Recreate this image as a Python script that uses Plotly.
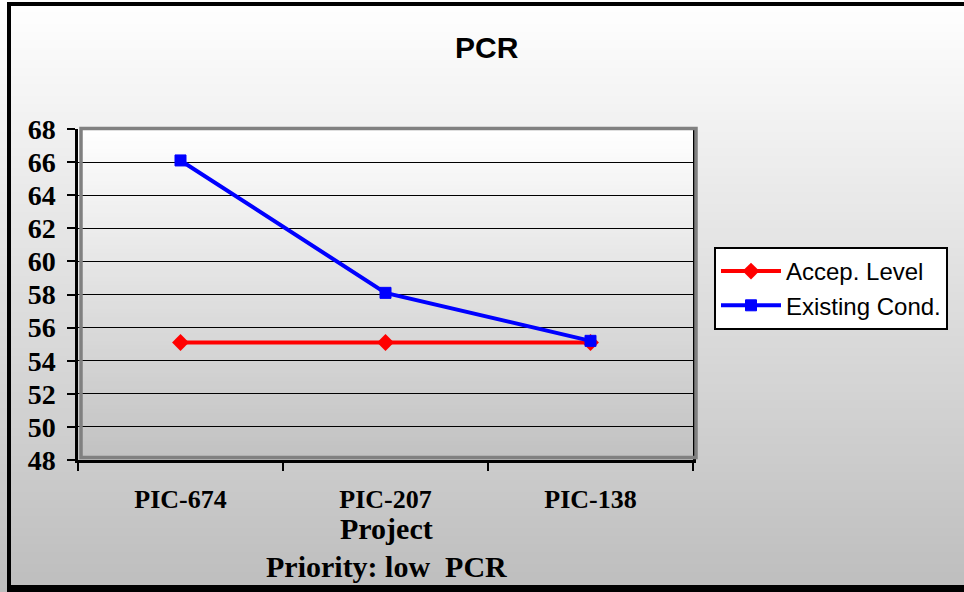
import plotly.graph_objects as go

# Chart data
projects = ["PIC-674", "PIC-207", "PIC-138"]
accep_level = [55.1, 55.1, 55.1]
existing_cond = [66.1, 58.1, 55.2]
y_ticks = [48, 50, 52, 54, 56, 58, 60, 62, 64, 66, 68]

W, H = 964, 592
L, R, T, B = 78, 693, 129, 460  # plot area in pixels


def px(x):
    return (x - L) / (R - L)


def py(y):
    return (B - y) / (B - T)


def grey(v):
    v = int(round(v))
    return f"rgb({v},{v},{v})"


shapes = []

# Page background: vertical gradient white -> light grey
step = 4
for y0 in range(0, H, step):
    y1 = min(y0 + step, H)
    c = 255 - 65 * (y0 + step / 2) / 585
    shapes.append(dict(type="rect", xref="paper", yref="paper", layer="below",
                       x0=px(0), x1=px(W), y0=py(y0), y1=py(y1),
                       fillcolor=grey(c), line=dict(width=0)))

# Plot area background: gradient white -> grey
for y0 in range(T, B, step):
    y1 = min(y0 + step, B)
    c = 255 - 62 * (y0 + step / 2 - T) / (B - T)
    shapes.append(dict(type="rect", xref="paper", yref="paper", layer="below",
                       x0=0, x1=1, y0=py(y0), y1=py(y1),
                       fillcolor=grey(c), line=dict(width=0)))

# Grey frame around plot area
shapes.append(dict(type="rect", xref="paper", yref="paper", layer="above",
                   x0=px(81), x1=px(696), y0=py(457.5), y1=py(128.5),
                   fillcolor="rgba(0,0,0,0)", line=dict(color="#808080", width=3.5)))

# Outer black border
shapes += [
    dict(type="rect", xref="paper", yref="paper", layer="above",
         x0=px(7), x1=px(11), y0=py(2), y1=py(592), fillcolor="black", line=dict(width=0)),
    dict(type="rect", xref="paper", yref="paper", layer="above",
         x0=px(7), x1=px(964), y0=py(2), y1=py(6), fillcolor="black", line=dict(width=0)),
    dict(type="rect", xref="paper", yref="paper", layer="above",
         x0=px(7), x1=px(964), y0=py(585), y1=py(592), fillcolor="black", line=dict(width=0)),
]

fig = go.Figure()
fig.add_trace(go.Scatter(
    x=projects, y=accep_level, name="Accep. Level", mode="lines+markers",
    line=dict(color="#ff0000", width=4),
    marker=dict(symbol="diamond", size=13, color="#ff0000"),
))
fig.add_trace(go.Scatter(
    x=projects, y=existing_cond, name="Existing Cond.", mode="lines+markers",
    line=dict(color="#0000ff", width=4),
    marker=dict(symbol="square", size=11, color="#0000ff",
                line=dict(color="#0000ff", width=1)),
))

ytick_font = dict(family="Liberation Serif", size=28, color="black", weight="bold")
xtick_font = dict(family="Liberation Serif", size=26, color="black", weight="bold")
label_font = dict(family="Liberation Serif", size=30, color="black", weight="bold")

fig.update_layout(
    width=W, height=H,
    margin=dict(l=L, r=W - R, t=T, b=H - B, pad=0),
    paper_bgcolor="white",
    plot_bgcolor="rgba(0,0,0,0)",
    shapes=shapes,
    showlegend=True,
    legend=dict(
        x=px(714), y=py(247), xanchor="left", yanchor="top",
        bgcolor="white", bordercolor="black", borderwidth=2,
        font=dict(family="Liberation Sans", size=24, color="black"),
        itemwidth=60, tracegroupgap=0,
    ),
    xaxis=dict(
        type="category", range=[-0.5, 2.5],
        tickson="boundaries", ticks="outside", ticklen=8, tickwidth=2, tickcolor="black",
        showline=True, linecolor="black", linewidth=2.5,
        showgrid=False, zeroline=False,
        tickfont=xtick_font, ticklabelstandoff=14,
    ),
    yaxis=dict(
        range=[48, 68], tickvals=y_ticks,
        ticks="outside", ticklen=8, tickwidth=2, tickcolor="black",
        showline=True, mirror=True, linecolor="black", linewidth=2.5,
        showgrid=True, gridcolor="black", gridwidth=1.2, zeroline=False,
        tickfont=ytick_font, ticklabelstandoff=6,
    ),
    annotations=[
        dict(text="<b>PCR</b>", xref="paper", yref="paper",
             x=px(487), y=py(47), xanchor="center", yanchor="middle",
             showarrow=False,
             font=dict(family="Liberation Sans", size=30, color="black")),
        dict(text="<b>Project</b>", xref="paper", yref="paper",
             x=px(386), y=py(528), xanchor="center", yanchor="middle",
             showarrow=False, font=label_font),
        dict(text="<b>Priority: low  PCR</b>", xref="paper", yref="paper",
             x=px(386), y=py(566), xanchor="center", yanchor="middle",
             showarrow=False, font=label_font),
    ],
)

fig.write_html("out.html")
